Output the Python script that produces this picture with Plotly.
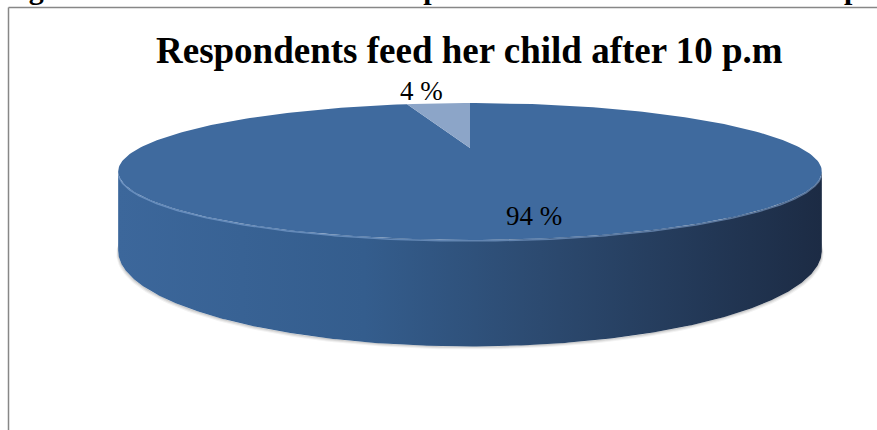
import numpy as np
import plotly.graph_objects as go

# ---- data ----
categories = ["Yes", "No"]
percent = [94, 4]
title_text = "Respondents feed her child after 10 p.m"
caption_text = "Figure 12: Distribution of the respondent's feed her child after 10 p.m"

# ---- colours ----
top_colors = ["#3f6a9e", "#8ca5c8"]
side_scale = [[0.0, "#3c679b"], [0.35, "#345d8d"], [0.6, "#2c4a70"], [1.0, "#1c2b44"]]

W, H = 877, 430

# ---- 3D pie geometry (screen pixels, y grows downward) ----
CX, CY = 470.0, 148.0   # pie centre
A, B = 330.5, 60.4      # horizontal / vertical radii scale
P = 0.343               # perspective foreshortening
D = 70.0                # thickness


def top_pt(theta):
    u, v = np.cos(theta), np.sin(theta)
    s = 1.0 / (1.0 - P * v)
    return CX + A * u * s, CY + B * v * s


def bottom_pt(theta):
    x, y = top_pt(theta)
    v = np.sin(theta)
    return x, y + D / (1.0 - P * v)


fig = go.Figure()

# soft shadow under the pie
for k, op in enumerate([0.05, 0.07, 0.09]):
    th = np.linspace(0, np.pi, 200)
    bx, by = bottom_pt(th)
    grow = 3 - k
    sx = np.concatenate([bx + np.sign(bx - CX) * grow * 0.6, bx[::-1]])
    sy = np.concatenate([by + grow, by[::-1]])
    fig.add_trace(go.Scatter(x=sx, y=sy, fill="toself", mode="lines",
                             line=dict(width=0), fillcolor=f"rgba(0,0,0,{op})",
                             hoverinfo="skip", showlegend=False))

# side wall (front half of the cylinder)
t0 = np.arcsin(P)
th = np.linspace(t0, np.pi - t0, 300)
tx, ty = top_pt(th)
bx, by = bottom_pt(th[::-1])
fig.add_trace(go.Scatter(
    x=np.concatenate([tx, bx]), y=np.concatenate([ty, by]),
    fill="toself", mode="lines", line=dict(width=0),
    fillgradient=dict(type="horizontal", colorscale=side_scale),
    hoverinfo="skip", showlegend=False))

# top face slices, clockwise from 12 o'clock
total = float(sum(percent))
start = -np.pi / 2
for name, val, col in zip(categories, percent, top_colors):
    end = start + 2 * np.pi * val / total
    arc = np.linspace(start, end, max(int(300 * val / total), 8))
    ax, ay = top_pt(arc)
    fig.add_trace(go.Scatter(
        x=np.concatenate([[CX], ax, [CX]]), y=np.concatenate([[CY], ay, [CY]]),
        fill="toself", mode="lines", line=dict(width=0), fillcolor=col,
        name=name, hoverinfo="skip", showlegend=False))
    start = end

# light bevel along the front rim
th = np.linspace(t0 + 0.05, np.pi - t0 - 0.05, 300)
rx, ry = top_pt(th)
fig.add_trace(go.Scatter(x=rx, y=ry + 1, mode="lines",
                         line=dict(color="rgba(140,175,220,0.55)", width=1.5),
                         hoverinfo="skip", showlegend=False))

# ---- text ----
serif = "Liberation Serif, Times New Roman, serif"
label_pos = [(534, 216), (421, 91)]
annotations = [
    dict(x=x, y=y, text=f"{v} %", showarrow=False, xref="x", yref="y",
         font=dict(family=serif, size=27, color="#000000"))
    for v, (x, y) in zip(percent, label_pos)
]
annotations.append(dict(x=469, y=50, text=f"<b>{title_text}</b>", showarrow=False,
                        xref="x", yref="y",
                        font=dict(family=serif, size=37, color="#000000")))
annotations.append(dict(x=0, y=0, text=f"<b>{caption_text}</b>", showarrow=False,
                        xref="paper", yref="paper", xanchor="left", yanchor="bottom",
                        xshift=0, yshift=H - 7,
                        font=dict(family=serif, size=30, color="#000000")))

# frame: top and left edges (the rest runs off the page)
frame = dict(color="#878787", width=1.5)
shapes = [
    dict(type="line", xref="paper", yref="paper", x0=8.5 / W, x1=1.0,
         y0=1 - 7.5 / H, y1=1 - 7.5 / H, line=frame, layer="below"),
    dict(type="line", xref="paper", yref="paper", x0=8.5 / W, x1=8.5 / W,
         y0=1 - 7.5 / H, y1=0.0, line=frame, layer="below"),
]

fig.update_layout(
    width=W, height=H,
    margin=dict(l=0, r=0, t=0, b=0),
    paper_bgcolor="white", plot_bgcolor="white",
    xaxis=dict(range=[0, W], visible=False, fixedrange=True),
    yaxis=dict(range=[H, 0], visible=False, fixedrange=True),
    annotations=annotations,
    shapes=shapes,
)

fig.write_html("out.html", config={"displayModeBar": False})
